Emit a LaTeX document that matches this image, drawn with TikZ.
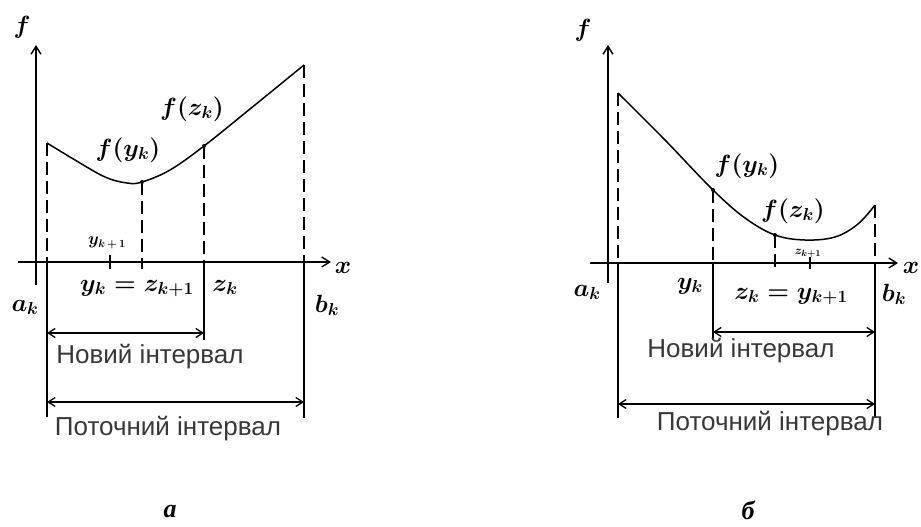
\documentclass[tikz,border=0pt]{standalone}
\usepackage{fontspec}
\setmainfont{Liberation Sans}
\newfontfamily\capfont{Liberation Serif}
\usetikzlibrary{arrows.meta}
\tikzset{
  axisline/.style={line width=1.4pt,-{Straight Barb[length=8pt,width=10pt,line width=1.4pt]}},
  guide/.style={line width=1.3pt,dash pattern=on 13pt off 6pt},
  solidv/.style={line width=1.3pt},
  tickline/.style={line width=1.2pt},
  interval/.style={line width=1.3pt,{Straight Barb[length=7pt,width=9pt,line width=1.3pt]}-{Straight Barb[length=7pt,width=9pt,line width=1.3pt]}},
  fcurve/.style={line width=1.5pt},
  pt/.style={circle,fill=black,inner sep=0pt,minimum size=4pt},
  txt/.style={font=\fontsize{26}{30}\selectfont,text=black!78,inner sep=0pt,anchor=base},
  mlbl/.style={font=\fontsize{27}{30}\selectfont\boldmath,inner sep=0pt,anchor=base},
  slbl/.style={font=\fontsize{16}{18}\selectfont\boldmath,inner sep=0pt},
  caplbl/.style={font=\fontsize{26}{30}\selectfont\capfont\bfseries\itshape,inner sep=0pt}
}
\begin{document}
\begin{tikzpicture}[x=1pt,y=-1pt]
\useasboundingbox (0,0) rectangle (921,527);

% ---------------- Left panel (a) ----------------
\coordinate (LfB) at (36,285); \coordinate (LfT) at (36,45);
\coordinate (LxL) at (18,262); \coordinate (LxR) at (331,262);
\draw[axisline] (LfB) -- (LfT);
\draw[axisline] (LxL) -- (LxR);
\node[mlbl,anchor=center] (Lf) at (22,27) {$f$};
\node[mlbl,anchor=center] (Lx) at (343,268) {$x$};

\coordinate (La0) at (47,143); \coordinate (LaX) at (47,262); \coordinate (LaB) at (47,417);
\coordinate (Ly0) at (142,182); \coordinate (LyX) at (142,262); \coordinate (LyB) at (142,269);
\coordinate (Lz0) at (204,146); \coordinate (LzX) at (204,262); \coordinate (LzB) at (204,340);
\coordinate (Lb0) at (304,65);  \coordinate (LbX) at (304,262); \coordinate (LbB) at (304,418);
\coordinate (Lt1) at (110,255); \coordinate (Lt2) at (110,269);

\draw[fcurve] plot[smooth,tension=0.6] coordinates
  {(47,143) (75,160) (105,177) (127,183) (142,182) (170,170) (204,146) (250,109) (304,65)};
\node[pt] (LyP) at (Ly0) {};
\node[pt] (LzP) at (Lz0) {};

\draw[guide] (La0) -- (LaX);
\draw[solidv] (LaX) -- (LaB);
\draw[guide] (Ly0) -- (LyX);
\draw[tickline] (LyX) -- (LyB);
\draw[tickline] (Lt1) -- (Lt2);
\draw[guide] (Lz0) -- (LzX);
\draw[solidv] (LzX) -- (LzB);
\draw[guide] (Lb0) -- (LbX);
\draw[solidv] (LbX) -- (LbB);

\coordinate (LnA) at (47,333); \coordinate (LnB) at (204,333);
\coordinate (LcA) at (47,402); \coordinate (LcB) at (304,402);
\draw[interval] (LnA) -- (LnB);
\draw[interval] (LcA) -- (LcB);

\node[mlbl] (Lfy) at (128,156) {$f(y_k)$};
\node[mlbl] (Lfz) at (192,115) {$f(z_k)$};
\node[slbl] (Lyk1) at (107,243) {$y_{k\,+\,1}$};
\node[mlbl] (Lyeq) at (137,291) {$y_k = z_{k+1}$};
\node[mlbl] (Lzk) at (225,291) {$z_k$};
\node[mlbl] (Lak) at (25,311) {$a_k$};
\node[mlbl] (Lbk) at (327,312) {$b_k$};
\node[txt] (Lnew) at (150,363) {Новий інтервал};
\node[txt] (Lcur) at (168,435) {Поточний інтервал};
\node[caplbl] (capA) at (170,512) {а};

% ---------------- Right panel (b) ----------------
\coordinate (RfB) at (608,283); \coordinate (RfT) at (608,45);
\coordinate (RxL) at (590,263); \coordinate (RxR) at (898,263);
\draw[axisline] (RfB) -- (RfT);
\draw[axisline] (RxL) -- (RxR);
\node[mlbl,anchor=center] (Rf) at (583,30) {$f$};
\node[mlbl,anchor=center] (Rx) at (911,268) {$x$};

\coordinate (Ra0) at (618,93);  \coordinate (RaX) at (618,263); \coordinate (RaB) at (618,418);
\coordinate (Ry0) at (713,190); \coordinate (RyX) at (713,263); \coordinate (RyB) at (713,340);
\coordinate (Rz0) at (775,235); \coordinate (RzX) at (775,270);
\coordinate (Rb0) at (875,205); \coordinate (RbX) at (875,263); \coordinate (RbB) at (875,418);
\coordinate (Rt1) at (810,257); \coordinate (Rt2) at (810,269);

\draw[fcurve] plot[smooth,tension=0.6] coordinates
  {(618,93) (665,140) (713,190) (745,218) (775,235) (805,240) (835,237) (858,224) (875,205)};
\node[pt] (RyP) at (Ry0) {};
\node[pt] (RzP) at (Rz0) {};

\draw[guide] (Ra0) -- (RaX);
\draw[solidv] (RaX) -- (RaB);
\draw[guide] (Ry0) -- (RyX);
\draw[solidv] (RyX) -- (RyB);
\draw[guide] (Rz0) -- (RzX);
\draw[tickline] (Rt1) -- (Rt2);
\draw[guide] (Rb0) -- (RbX);
\draw[solidv] (RbX) -- (RbB);

\coordinate (RnA) at (713,332); \coordinate (RnB) at (875,332);
\coordinate (RcA) at (618,404); \coordinate (RcB) at (875,404);
\draw[interval] (RnA) -- (RnB);
\draw[interval] (RcA) -- (RcB);

\node[mlbl] (Rfy) at (747,172) {$f(y_k)$};
\node[mlbl] (Rfz) at (793,217) {$f(z_k)$};
\node[slbl,font=\fontsize{13}{15}\selectfont\boldmath] (Rzk1) at (808,253) {$z_{k+1}$};
\node[mlbl] (Rak) at (587,296) {$a_k$};
\node[mlbl] (Ryk) at (690,289) {$y_k$};
\node[mlbl] (Rzeq) at (791,299) {$z_k = y_{k+1}$};
\node[mlbl] (Rbk) at (894,301) {$b_k$};
\node[txt] (Rnew) at (741,357) {Новий інтервал};
\node[txt] (Rcur) at (770,430) {Поточний інтервал};
\node[caplbl] (capB) at (748,510) {б};
\end{tikzpicture}
\end{document}
